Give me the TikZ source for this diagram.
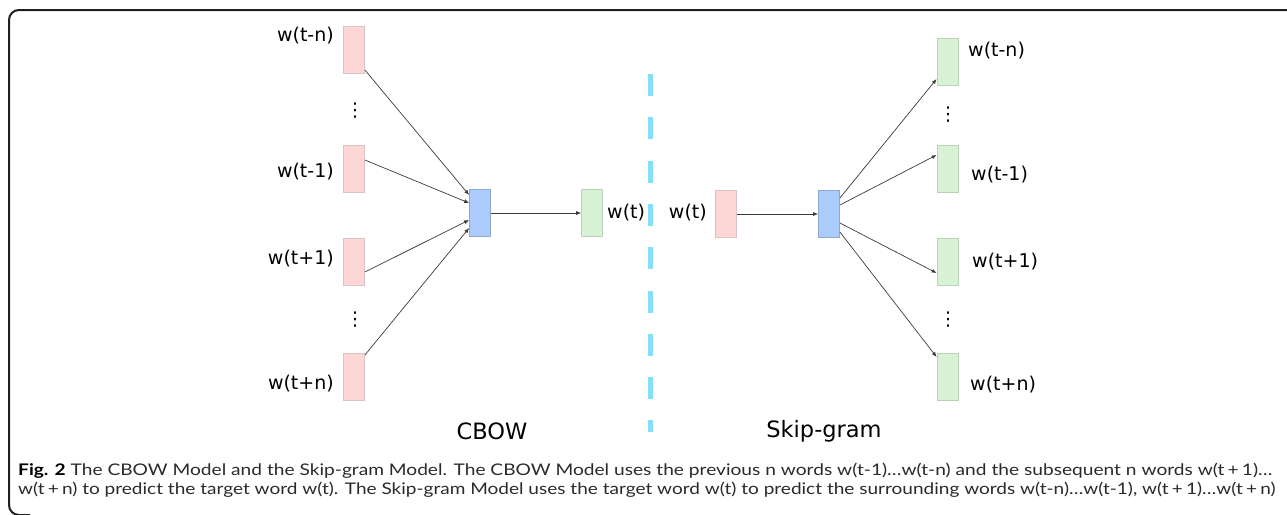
\documentclass[tikz,border=0pt]{standalone}
\usepackage{fontspec}
\setmainfont{DejaVu Sans}
\newfontfamily\capfont{Lato}
\usetikzlibrary{arrows.meta}
\definecolor{pinkfill}{HTML}{FFD6D6}
\definecolor{pinkdraw}{HTML}{DCC3C3}
\definecolor{greenfill}{HTML}{D8F2D6}
\definecolor{greendraw}{HTML}{B9D2B7}
\definecolor{bluefill}{HTML}{AACBFC}
\definecolor{bluedraw}{HTML}{8FA9CC}
\definecolor{sepcol}{HTML}{84DFF7}
\definecolor{arrcol}{HTML}{3A3A3A}
\definecolor{captext}{HTML}{2A2A2A}
\tikzset{
  vecbox/.style={rectangle, minimum width=21pt, minimum height=47pt, inner sep=0pt, line width=0.8pt},
  pinkbox/.style={vecbox, fill=pinkfill, draw=pinkdraw},
  greenbox/.style={vecbox, fill=greenfill, draw=greendraw},
  bluebox/.style={vecbox, fill=bluefill, draw=bluedraw},
  lbl/.style={inner sep=0pt, font=\fontsize{19}{22}\selectfont},
  vdotsnode/.style={inner sep=0pt, font=\fontsize{19}{22}\selectfont},
  title/.style={inner sep=0pt, font=\fontsize{22.5}{26}\selectfont},
  conn/.style={draw=arrcol, line width=0.7pt, -{Latex[length=5pt,width=4pt]}},
  capline/.style={inner sep=0pt, anchor=base west, font=\capfont\fontsize{16}{20}\selectfont, text=captext}
}
\begin{document}
\begin{tikzpicture}[x=1pt,y=-1pt]
\useasboundingbox (0,0) rectangle (1287,514);
% frame
\draw[line width=2pt, draw=black!88, rounded corners=10pt] (1300,10) -- (9,10) -- (9,515) -- (30,515);

% CBOW side
\node[pinkbox] (ltn) at (354,50) {};
\node[pinkbox] (lt1) at (354,168.5) {};
\node[pinkbox] (ltp1) at (354,262) {};
\node[pinkbox] (ltpn) at (354,376.5) {};
\node[vdotsnode] (ld1) at (355,111) {⋮};
\node[vdotsnode] (ld2) at (355,320) {⋮};
\node[lbl, anchor=east] (lltn) at (334,36) {w(t-n)};
\node[lbl, anchor=east] (llt1) at (334,172) {w(t-1)};
\node[lbl, anchor=east] (lltp1) at (334,259) {w(t+1)};
\node[lbl, anchor=east] (lltpn) at (334,384) {w(t+n)};
\node[bluebox] (lh) at (480,213) {};
\node[greenbox] (lout) at (592,213) {};
\node[lbl, anchor=west] (llout) at (607,213) {w(t)};

\draw[conn] ([yshift=-20pt]ltn.east) -- ([yshift=18pt]lh.west);
\draw[conn] ([yshift=8.5pt]lt1.east) -- ([yshift=10pt]lh.west);
\draw[conn] ([yshift=-10pt]ltp1.east) -- ([yshift=-7pt]lh.west);
\draw[conn] ([yshift=21.5pt]ltpn.east) -- ([yshift=-15pt]lh.west);
\draw[conn] (lh.east) -- (lout.west);

\node[title] (cbow) at (492,431) {CBOW};

% separator
\draw[sepcol, line width=5pt, dash pattern=on 22pt off 21.3pt] (650.5,74) -- (650.5,432);

% Skip-gram side
\node[pinkbox] (rin) at (726,214) {};
\node[lbl, anchor=east] (lrin) at (707,213) {w(t)};
\node[bluebox] (rh) at (829,214) {};
\node[greenbox] (rtn) at (947.5,61.5) {};
\node[greenbox] (rt1) at (947.5,169) {};
\node[greenbox] (rtp1) at (947.5,262) {};
\node[greenbox] (rtpn) at (947.5,376.5) {};
\node[vdotsnode] (rd1) at (948,115) {⋮};
\node[vdotsnode] (rd2) at (948,320) {⋮};
\node[lbl, anchor=west] (lrtn) at (968,51) {w(t-n)};
\node[lbl, anchor=west] (lrt1) at (971,175) {w(t-1)};
\node[lbl, anchor=west] (lrtp1) at (972,262) {w(t+1)};
\node[lbl, anchor=west] (lrtpn) at (970,385) {w(t+n)};

\draw[conn] (rin.east) -- (rh.west);
\draw[conn] ([yshift=16pt]rh.east) -- ([yshift=-17.5pt]rtn.west);
\draw[conn] ([yshift=9pt]rh.east) -- ([yshift=14pt]rt1.west);
\draw[conn] ([yshift=-9pt]rh.east) -- ([yshift=-11pt]rtp1.west);
\draw[conn] ([yshift=-18pt]rh.east) -- ([yshift=19.5pt]rtpn.west);

\node[title] (skip) at (824,431) {Skip-gram};

% caption
\node[capline] (cap1) at (18,475) {\resizebox{1254pt}{\height}{\textbf{\color{black}Fig. 2} The CBOW Model and the Skip-gram Model. The CBOW Model uses the previous n words w(t-1)…w(t-n) and the subsequent n words w(t\,+\,1)…}};
\node[capline] (cap2) at (18,494) {\resizebox{1257pt}{\height}{w(t\,+\,n) to predict the target word w(t). The Skip-gram Model uses the target word w(t) to predict the surrounding words w(t-n)…w(t-1), w(t\,+\,1)…w(t\,+\,n)}};
\end{tikzpicture}
\end{document}
